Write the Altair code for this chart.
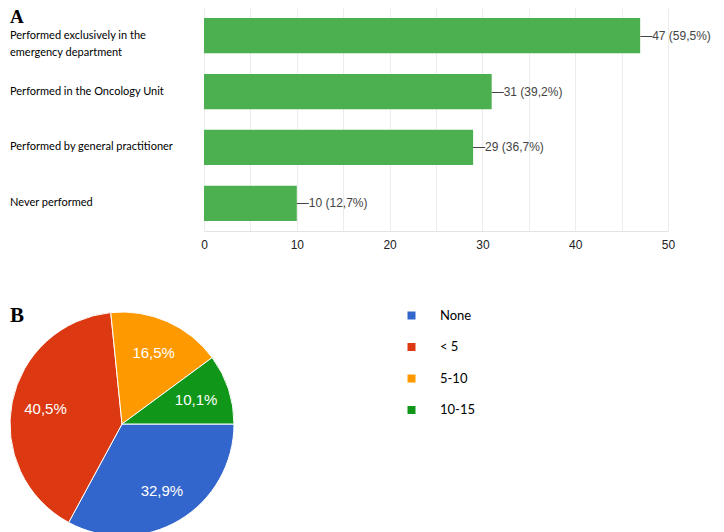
import math
import altair as alt
import pandas as pd

# ---- Panel A data ----
categories = [
    "Performed exclusively in the emergency department",
    "Performed in the Oncology Unit",
    "Performed by general practitioner",
    "Never performed",
]
category_lines = [
    "Performed exclusively in the\nemergency department",
    "Performed in the Oncology Unit",
    "Performed by general practitioner",
    "Never performed",
]
counts = [47, 31, 29, 10]
percent_labels = ["59,5%", "39,2%", "36,7%", "12,7%"]
x_ticks = [0, 5, 10, 15, 20, 25, 30, 35, 40, 45, 50]

# ---- Panel B data ----
pie_groups = ["None", "< 5", "5-10", "10-15"]
pie_values = [32.9, 40.5, 16.5, 10.1]
pie_labels = ["32,9%", "40,5%", "16,5%", "10,1%"]
pie_colors = ["#3366cc", "#dc3912", "#ff9900", "#109618"]

bar_df = pd.DataFrame({
    "category": categories,
    "display": category_lines,
    "count": counts,
    "label": ["\u2014" + f"{c} ({p})" for c, p in zip(counts, percent_labels)],
})

band = alt.Scale(paddingInner=0.37, paddingOuter=0.18)
VIEW_H = 223

# left column: category labels + panel letter
label_text = alt.Chart(bar_df).mark_text(
    align="left", baseline="middle", font="Lato", fontSize=11,
    lineBreak="\n", lineHeight=17, color="#000",
).encode(
    y=alt.Y("category:N", sort=categories, scale=band, axis=None),
    x=alt.value(0),
    text="display:N",
)
letter_a = alt.Chart(pd.DataFrame({"t": ["A"]})).mark_text(
    align="left", baseline="top", font="Liberation Serif",
    fontSize=19, fontWeight="bold", color="#000",
).encode(x=alt.value(0), y=alt.value(0), text="t:N")
labels_col = alt.layer(label_text, letter_a).properties(width=190, height=VIEW_H)

x_enc = alt.X(
    "count:Q",
    scale=alt.Scale(domain=[0, 50], nice=False),
    axis=alt.Axis(
        title=None, values=x_ticks,
        labelExpr="datum.value % 10 == 0 ? datum.label : ''",
        grid=True, gridColor="#ececec", domainColor="#e4e4e4",
        ticks=False, tickSize=0, labelPadding=8, labelFont="Liberation Sans",
        labelFontSize=12, labelColor="#222", labelFlush=False,
    ),
)
y_enc = alt.Y("category:N", sort=categories, scale=band, axis=None)

bars = alt.Chart(bar_df).mark_bar(color="#4caf50").encode(x=x_enc, y=y_enc)
bar_text = alt.Chart(bar_df).mark_text(
    align="left", baseline="middle", color="#444", fontSize=12,
    font="Liberation Sans",
).encode(x="count:Q", y=y_enc, text="label:N")
bars_col = alt.layer(bars, bar_text).properties(width=464, height=VIEW_H)

row_a = alt.hconcat(labels_col, bars_col, spacing=0)

pie_df = pd.DataFrame({
    "group": pie_groups,
    "value": pie_values,
    "label": pie_labels,
    "order": list(range(len(pie_groups))),
})

base = alt.Chart(pie_df).encode(
    theta=alt.Theta(
        "value:Q", stack=True,
        scale=alt.Scale(range=[math.pi / 2, math.pi / 2 + 2 * math.pi]),
    ),
    order=alt.Order("order:Q"),
)

arcs = base.mark_arc(outerRadius=112, stroke="white", strokeWidth=1).encode(
    color=alt.Color(
        "group:N", sort=pie_groups,
        scale=alt.Scale(domain=pie_groups, range=pie_colors),
        legend=alt.Legend(
            title=None, orient="none", legendX=395, legendY=301,
            symbolType="square", symbolSize=64, symbolStrokeWidth=0,
            rowPadding=17.5, labelOffset=22, labelFontSize=13, labelFont="Lato",
            labelColor="#000", padding=0,
        ),
    )
)
pie_text = base.mark_text(
    radius=78, color="white", fontSize=15, font="Liberation Sans"
).encode(text="label:N", detail="group:N")

letter_b = alt.Chart(pd.DataFrame({"t": ["B"]})).mark_text(
    align="left", baseline="alphabetic", font="Liberation Serif",
    fontSize=21, fontWeight="bold", color="#000",
).encode(x=alt.value(0), y=alt.value(8), text="t:N")

chart_b = alt.layer(arcs, pie_text, letter_b).properties(width=224, height=220)

chart = alt.vconcat(row_a, chart_b, spacing=55).properties(
    padding=0
).configure_view(stroke=None)

chart.save("out.html", embed_options={"renderer": "svg", "actions": False})
